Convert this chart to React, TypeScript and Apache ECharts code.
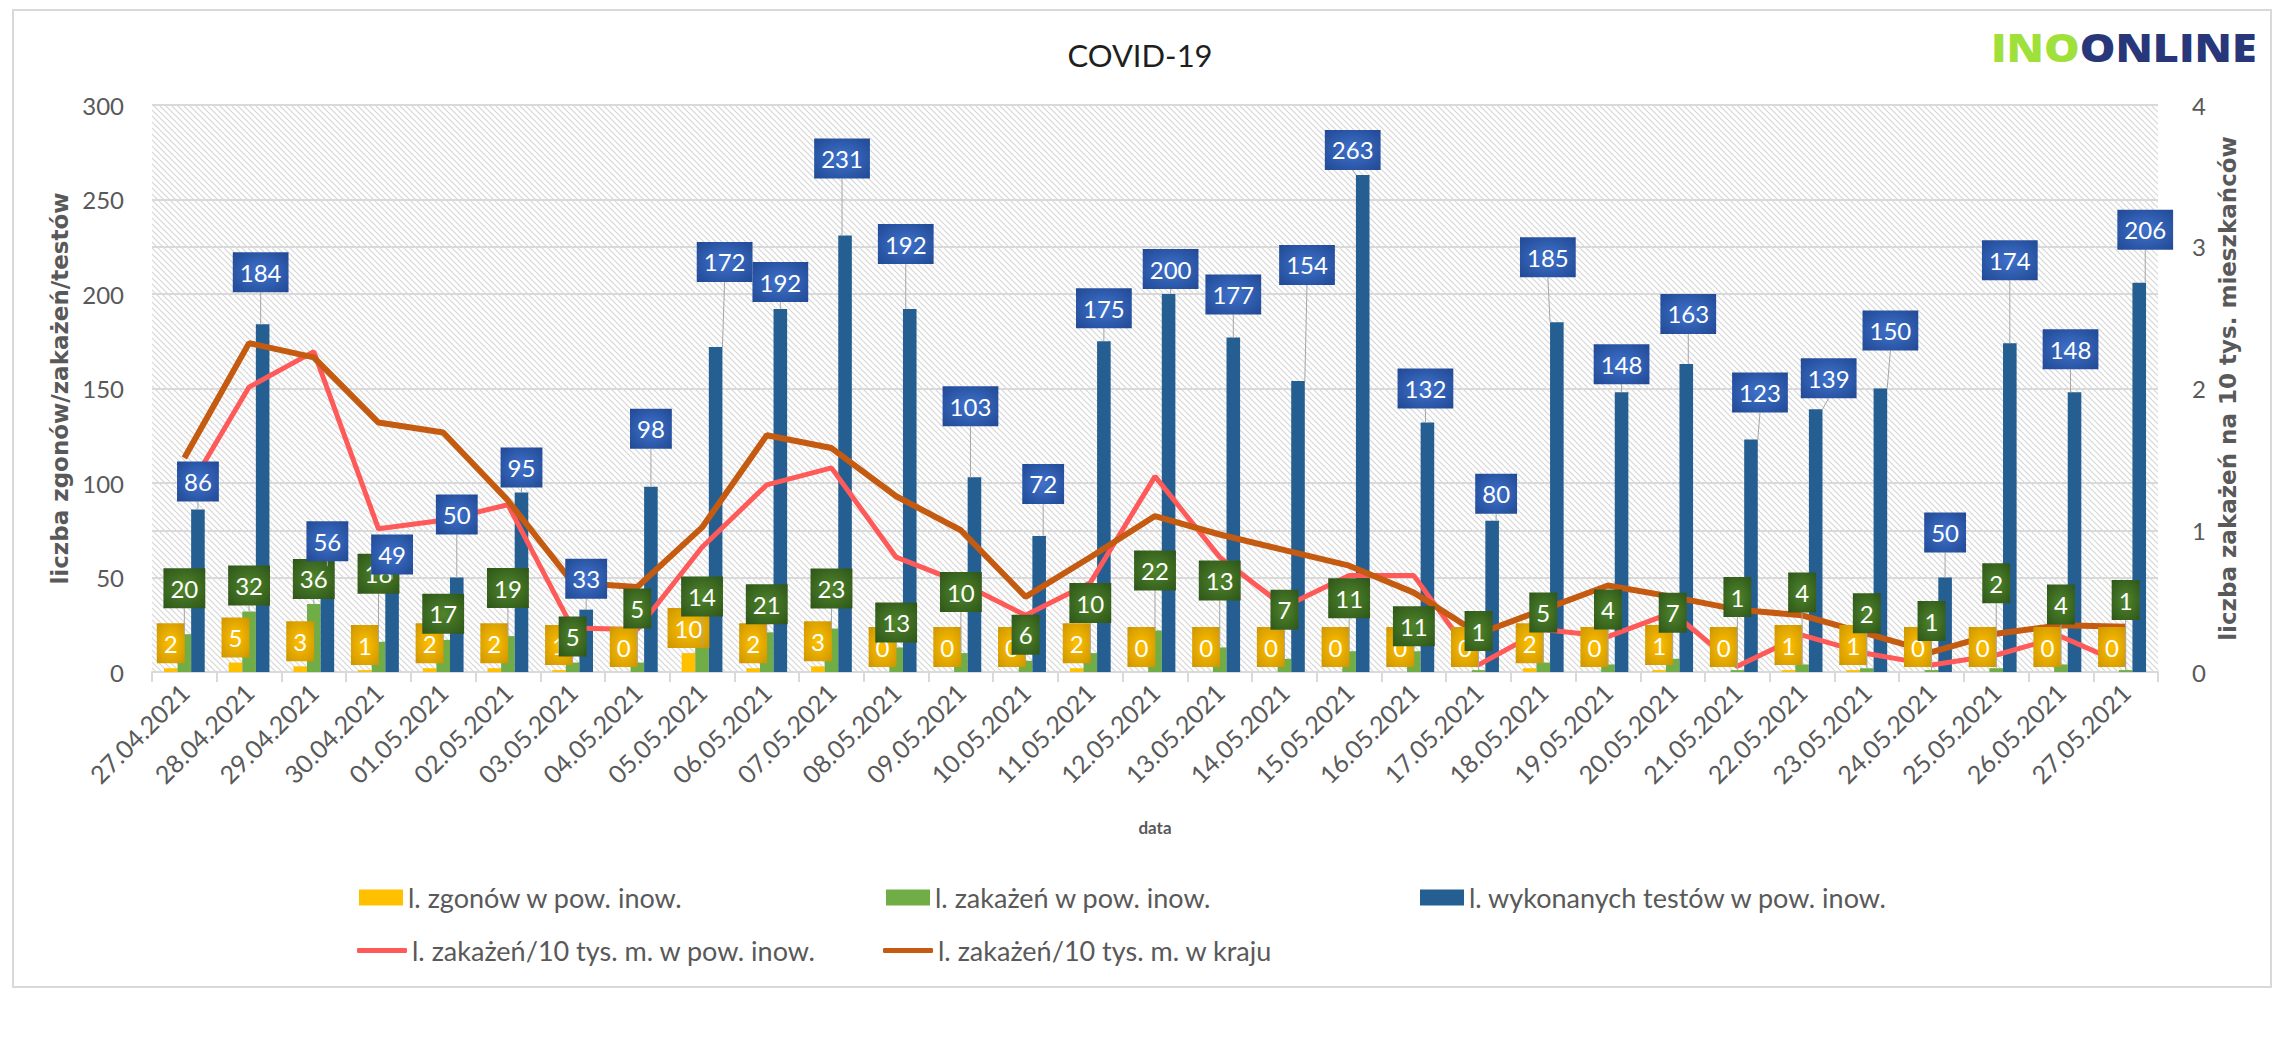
import React, { useEffect, useRef } from 'react';
import * as echarts from 'echarts';

const categories = [
  '27.04.2021', '28.04.2021', '29.04.2021', '30.04.2021', '01.05.2021', '02.05.2021', '03.05.2021',
  '04.05.2021', '05.05.2021', '06.05.2021', '07.05.2021', '08.05.2021', '09.05.2021', '10.05.2021',
  '11.05.2021', '12.05.2021', '13.05.2021', '14.05.2021', '15.05.2021', '16.05.2021', '17.05.2021',
  '18.05.2021', '19.05.2021', '20.05.2021', '21.05.2021', '22.05.2021', '23.05.2021', '24.05.2021',
  '25.05.2021', '26.05.2021', '27.05.2021',
];
const deaths = [2, 5, 3, 1, 2, 2, 1, 0, 10, 2, 3, 0, 0, 0, 2, 0, 0, 0, 0, 0, 0, 2, 0, 1, 0, 1, 1, 0, 0, 0, 0];
const infections = [20, 32, 36, 16, 17, 19, 5, 5, 14, 21, 23, 13, 10, 6, 10, 22, 13, 7, 11, 11, 1, 5, 4, 7, 1, 4, 2, 1, 2, 4, 1];
const tests = [86, 184, 56, 49, 50, 95, 33, 98, 172, 192, 231, 192, 103, 72, 175, 200, 177, 154, 263, 132, 80, 185, 148, 163, 123, 139, 150, 50, 174, 148, 206];
const ratePowiat = [1.24, 2.01, 2.26, 1.01, 1.07, 1.18, 0.31, 0.30, 0.88, 1.32, 1.44, 0.81, 0.63, 0.40, 0.63, 1.38, 0.81, 0.46, 0.68, 0.68, 0.05, 0.30, 0.25, 0.42, 0.04, 0.26, 0.13, 0.05, 0.12, 0.25, 0.05];
const rateKraj = [1.51, 2.32, 2.22, 1.76, 1.69, 1.21, 0.63, 0.60, 1.02, 1.67, 1.58, 1.24, 1.00, 0.53, 0.81, 1.10, 0.97, 0.86, 0.75, 0.56, 0.27, 0.44, 0.61, 0.53, 0.44, 0.40, 0.27, 0.14, 0.27, 0.33, 0.32];

const NAMES = [
  'l. zgonów w pow. inow.',
  'l. zakażeń w pow. inow.',
  'l. wykonanych testów w pow. inow.',
  'l. zakażeń/10 tys. m. w pow. inow.',
  'l. zakażeń/10 tys. m. w kraju',
];

// label placement tweaks (pixels), style only
const BLUE_DX = [0, -2, 0, 0, 0, 0, 0, 0, 9, 0, -3, -4, -4, 4, 0, 2, 0, 9, -10, -2, 4, -9, 0, 2, 9, 13, 10, 0, 0, -4, 6];
const BLUE_DY = [-3, -27, 0, 0, -38, 0, -6, -33, -60, -2, -52, -40, -46, -27, -8, 0, -18, -91, 0, -9, -2, -40, -3, -25, -22, -6, -33, -20, -58, -18, -28];
const GREEN_DY = [-21, -1, 0, -43, -1, -23, -1, -29, -24, -3, -15, 0, -36, -1, -25, -35, -42, -24, -28, 0, -14, -25, -30, -21, -48, -47, -30, -24, -60, -35, -45];

const GRAY = '#595959';
const FONT = 'Lato, "Open Sans", sans-serif';

function radial(c1: string, c2: string) {
  return {
    type: 'radial', x: 0.5, y: 0.5, r: 0.75,
    colorStops: [{ offset: 0, color: c1 }, { offset: 1, color: c2 }],
  };
}

export default function App() {
  const ref = useRef<HTMLDivElement>(null);
  useEffect(() => {
    if (!ref.current) return;
    const chart = echarts.init(ref.current, undefined, { renderer: 'svg' });

    const cv = document.createElement('canvas');
    cv.width = 6; cv.height = 6;
    const ctx = cv.getContext('2d');
    if (ctx) {
      ctx.fillStyle = '#ffffff';
      ctx.fillRect(0, 0, 6, 6);
      ctx.strokeStyle = '#d6d6d6';
      ctx.lineWidth = 1.2;
      ctx.beginPath();
      ctx.moveTo(-1, -1); ctx.lineTo(7, 7);
      ctx.moveTo(-1, 5); ctx.lineTo(1, 7);
      ctx.moveTo(5, -1); ctx.lineTo(7, 1);
      ctx.stroke();
    }

    const labelBase = {
      show: true, position: 'top', distance: 5,
      fontFamily: FONT, fontSize: 24, lineHeight: 24, color: '#ffffff',
      padding: [8, 7],
    };
    const barCommon = { barGap: '0%', barCategoryGap: '37%' };

    const option: any = {
      animation: false,
      backgroundColor: '#ffffff',
      title: {
        text: 'COVID-19', left: 'center', top: 34,
        textStyle: { fontFamily: FONT, fontSize: 31, fontWeight: 'normal', color: '#1f1f1f' },
      },
      graphic: [
        {
          type: 'rect', shape: { x: 13, y: 10, width: 2258, height: 977 },
          style: { fill: 'none', stroke: '#d9d9d9', lineWidth: 2 }, silent: true,
        },
        {
          type: 'text', x: 1991, y: 28, scaleX: 1.18,
          style: {
            text: '{g|INO}{b|ONLINE}',
            rich: {
              g: { fill: '#9fe03a', fontSize: 38, fontWeight: 900, fontFamily: '"Open Sans", sans-serif' },
              b: { fill: '#273779', fontSize: 38, fontWeight: 900, fontFamily: '"Open Sans", sans-serif' },
            },
          },
        },
      ],
      legend: [
        { left: 354, top: 879, icon: 'rect', itemWidth: 44, itemHeight: 16, data: [NAMES[0]] },
        { left: 881, top: 879, icon: 'rect', itemWidth: 44, itemHeight: 16, data: [NAMES[1]] },
        { left: 1415, top: 879, icon: 'rect', itemWidth: 44, itemHeight: 16, data: [NAMES[2]] },
        { left: 352, top: 932, icon: 'roundRect', itemWidth: 50, itemHeight: 5, data: [NAMES[3]] },
        { left: 878, top: 932, icon: 'roundRect', itemWidth: 50, itemHeight: 5, data: [NAMES[4]] },
      ].map((l) => ({ ...l, selectedMode: false, itemGap: 0, textStyle: { fontFamily: FONT, fontSize: 27, color: GRAY } })),
      grid: {
        left: 152, right: 122, top: 105, bottom: 392, show: true, borderWidth: 0,
        backgroundColor: { image: cv, repeat: 'repeat', imageWidth: 6, imageHeight: 6 },
      },
      xAxis: [
        {
          type: 'category', data: categories, boundaryGap: true,
          axisLine: { lineStyle: { color: '#d9d9d9', width: 2 } },
          axisTick: { show: true, length: 10, lineStyle: { color: '#d9d9d9', width: 2 } },
          axisLabel: { rotate: 45, margin: 16, interval: 0, fontFamily: FONT, fontSize: 25, color: GRAY },
          name: 'data', nameLocation: 'middle', nameGap: 147,
          nameTextStyle: { fontFamily: FONT, fontSize: 17, fontWeight: 'bold', color: GRAY },
        },
        { type: 'category', data: categories, show: false, boundaryGap: true },
      ],
      yAxis: [
        {
          type: 'value', min: 0, max: 300, interval: 50, position: 'left',
          name: 'liczba zgonów/zakażeń/testów', nameLocation: 'middle', nameGap: 76, nameRotate: 90,
          nameTextStyle: { fontFamily: '"DejaVu Sans", sans-serif', fontWeight: 'bold', fontSize: 23, color: GRAY },
          axisLabel: { fontFamily: FONT, fontSize: 24, color: GRAY, margin: 28 },
          splitLine: { lineStyle: { color: '#d9d9d9', width: 2 } },
          axisLine: { show: false }, axisTick: { show: false },
        },
        {
          type: 'value', min: 0, max: 4, interval: 1, position: 'right',
          name: 'liczba zakażeń na 10 tys. mieszkańców', nameLocation: 'middle', nameGap: 56, nameRotate: 90,
          nameTextStyle: { fontFamily: '"DejaVu Sans", sans-serif', fontWeight: 'bold', fontSize: 23, color: GRAY },
          axisLabel: { fontFamily: FONT, fontSize: 24, color: GRAY, margin: 34 },
          splitLine: { lineStyle: { color: '#d9d9d9', width: 2 } },
          axisLine: { show: false }, axisTick: { show: false },
        },
      ],
      series: [
        { name: NAMES[0], type: 'bar', data: deaths, color: '#ffc000', z: 2, ...barCommon },
        { name: NAMES[1], type: 'bar', data: infections, color: '#70ad47', z: 2, ...barCommon },
        { name: NAMES[2], type: 'bar', data: tests, color: '#255e91', z: 2, ...barCommon },
        {
          name: NAMES[3], type: 'line', yAxisIndex: 1, data: ratePowiat, color: '#ff5a5a',
          symbol: 'none', lineStyle: { width: 5, color: '#ff5a5a' }, z: 3,
        },
        {
          name: NAMES[4], type: 'line', yAxisIndex: 1, data: rateKraj, color: '#c55a11',
          symbol: 'none', lineStyle: { width: 6, color: '#c55a11' }, z: 3,
        },
        {
          name: 'lbl-zgony', type: 'bar', xAxisIndex: 1, data: deaths, z: 4, ...barCommon,
          itemStyle: { color: 'rgba(0,0,0,0)' }, silent: true,
          label: { ...labelBase, backgroundColor: radial('#ffc000', '#c99200') },
        },
        {
          name: 'lbl-zakazenia', type: 'bar', xAxisIndex: 1, data: infections, z: 5, ...barCommon,
          itemStyle: { color: 'rgba(0,0,0,0)' }, silent: true,
          label: { ...labelBase, backgroundColor: radial('#4f852c', '#2c5217') },
          labelLayout: (p: any) => ({ dy: GREEN_DY[p.dataIndex] }),
          labelLine: { show: true, lineStyle: { color: '#a6a6a6', width: 1 } },
        },
        {
          name: 'lbl-testy', type: 'bar', xAxisIndex: 1, data: tests, z: 6, ...barCommon,
          itemStyle: { color: 'rgba(0,0,0,0)' }, silent: true,
          label: { ...labelBase, backgroundColor: radial('#3f72cc', '#1f4690') },
          labelLayout: (p: any) => ({ dx: BLUE_DX[p.dataIndex], dy: BLUE_DY[p.dataIndex] }),
          labelLine: { show: true, lineStyle: { color: '#a6a6a6', width: 1 } },
        },
      ],
    };
    chart.setOption(option);
    return () => chart.dispose();
  }, []);
  return (
    <div
      ref={ref}
      style={{ position: 'fixed', left: 0, top: 0, width: 2280, height: 1064, background: '#fff' }}
    />
  );
}
